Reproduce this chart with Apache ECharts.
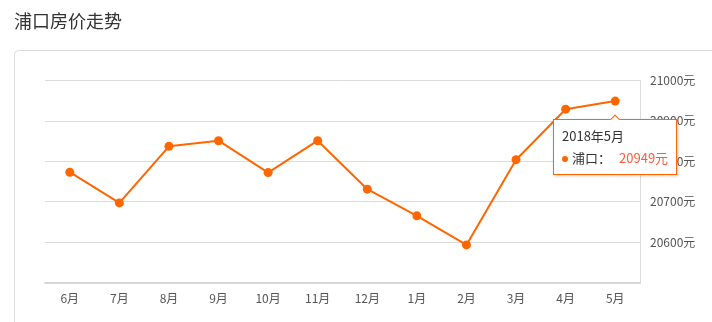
<!DOCTYPE html>
<html>
<head>
<meta charset="utf-8">
<script src="https://cdn.jsdelivr.net/npm/echarts@6/dist/echarts.min.js"></script>
<style>
html,body{margin:0;padding:0;background:#fff;}
#main{width:712px;height:322px;}
</style>
</head>
<body>
<div id="main"></div>
<script>
const categories = ['6月','7月','8月','9月','10月','11月','12月','1月','2月','3月','4月','5月'];
const periods = ['2017年6月','2017年7月','2017年8月','2017年9月','2017年10月','2017年11月','2017年12月','2018年1月','2018年2月','2018年3月','2018年4月','2018年5月'];
const prices = [20773, 20697, 20837, 20851, 20772, 20851, 20731, 20665, 20593, 20804, 20929, 20949];
const seriesName = '浦口';
const titleText = '浦口房价走势';
const yMin = 20500, yMax = 21000, yStep = 100;

const FONT = '"Noto Sans CJK SC", "Noto Sans", sans-serif';
const chart = echarts.init(document.getElementById('main'));
chart.setOption({
  animation: false,
  textStyle: { fontFamily: FONT },
  title: {
    text: titleText, left: 9, top: 7,
    textStyle: { fontSize: 18, fontWeight: 'normal', color: '#333', fontFamily: FONT }
  },
  graphic: [{
    type: 'rect', silent: true, z: -10,
    shape: { x: 14.5, y: 50.5, width: 800, height: 400, r: 4 },
    style: { fill: 'none', stroke: '#dcdcdc', lineWidth: 1 }
  }],
  grid: { left: 45, right: 72, top: 80.5, bottom: 39.5 },
  tooltip: {
    trigger: 'item',
    position: 'bottom',
    alwaysShowContent: true,
    transitionDuration: 0,
    backgroundColor: '#fff',
    borderColor: '#ff6600',
    borderWidth: 1,
    borderRadius: 0,
    padding: [5, 8, 5, 8],
    textStyle: { color: '#333', fontSize: 13, fontFamily: FONT },
    extraCssText: 'box-shadow:1px 1px 3px rgba(0,0,0,0.2);line-height:22px;margin-top:3px;',
    formatter: function (p) {
      return periods[p.dataIndex] + '<br/>' +
        '<span style="display:inline-block;width:6px;height:6px;border-radius:3px;background:#ff6600;margin-right:4px;vertical-align:middle;"></span>' +
        p.seriesName + '：' +
        '<span style="color:#ff5a3c;margin-left:8px;">' + p.value + '元</span>';
    }
  },
  xAxis: {
    type: 'category',
    data: categories,
    boundaryGap: true,
    axisLine: { lineStyle: { color: '#d6d6d6', width: 2 } },
    axisTick: { alignWithLabel: true, length: 4, lineStyle: { color: '#d6d6d6' } },
    axisLabel: { color: '#555', fontSize: 12, margin: 10 }
  },
  yAxis: {
    type: 'value',
    position: 'right',
    min: yMin, max: yMax, interval: yStep,
    axisLine: { show: true, lineStyle: { color: '#dcdcdc', width: 1 } },
    axisTick: { show: false },
    axisLabel: {
      color: '#555', fontSize: 12, margin: 10,
      formatter: function (v) { return v === yMin ? '' : v + '元'; }
    },
    splitLine: { lineStyle: { color: '#dcdcdc' } }
  },
  series: [{
    name: seriesName,
    type: 'line',
    data: prices,
    symbol: 'circle',
    symbolSize: 9,
    lineStyle: { color: '#ff6600', width: 2 },
    itemStyle: { color: '#ff6600' },
    emphasis: { scale: false }
  }]
});
chart.dispatchAction({ type: 'showTip', seriesIndex: 0, dataIndex: 11 });
</script>
</body>
</html>
